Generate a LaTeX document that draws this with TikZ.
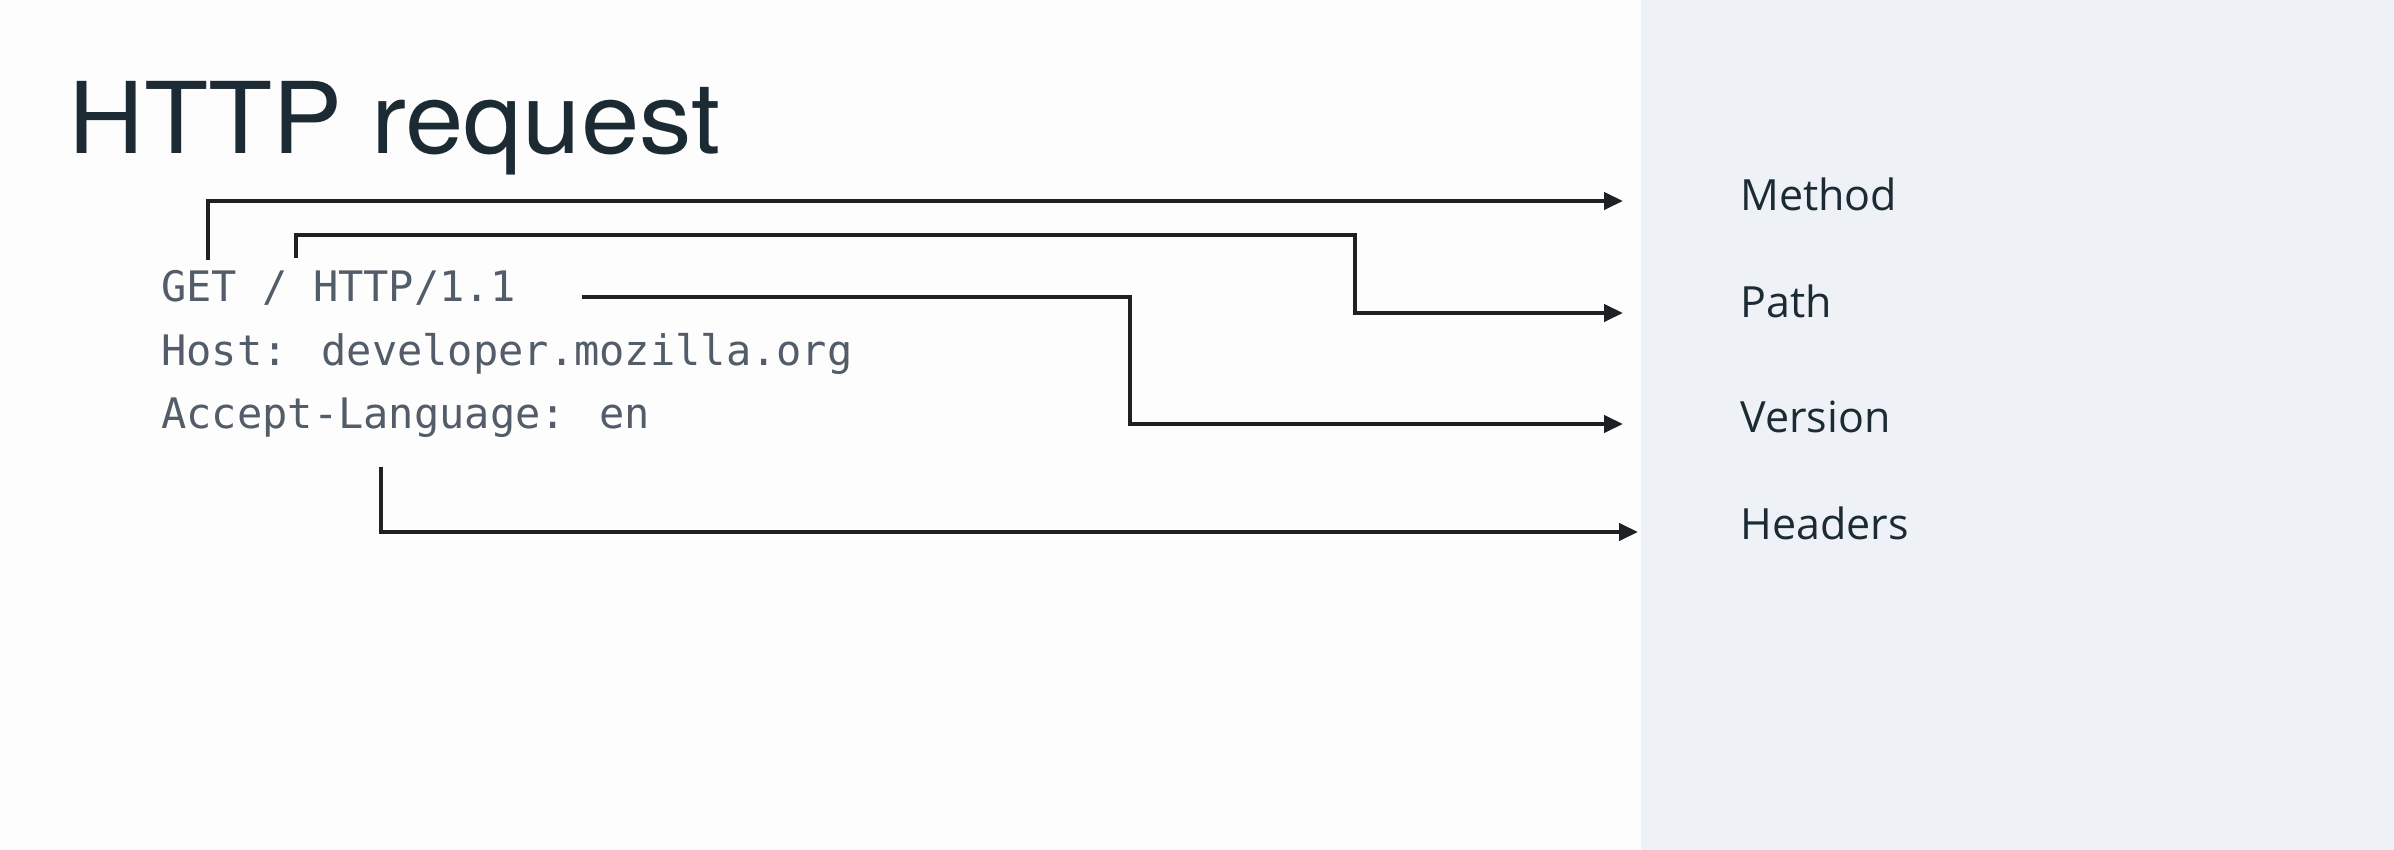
\documentclass[tikz,border=0pt]{standalone}
\usepackage{fontspec}
\usetikzlibrary{arrows.meta}
\newfontfamily\titlefont[FakeStretch=1.06]{TeX Gyre Heros}
\newfontfamily\labelfont{Open Sans}
\newfontfamily\codefont{DejaVu Sans Mono}
\definecolor{ink}{HTML}{1C2B33}
\definecolor{codegray}{HTML}{525D69}
\definecolor{panel}{HTML}{EEF2F7}
\definecolor{linec}{HTML}{1E2124}
\definecolor{bg}{HTML}{FDFDFE}
\begin{document}
\begin{tikzpicture}[x=0.5pt,y=-0.5pt,
  titlestyle/.style={anchor=base west,inner sep=0pt,text=ink,font=\titlefont\fontsize{49.5}{58}\selectfont},
  codestyle/.style={anchor=base west,inner sep=0pt,text=codegray,font=\codefont\fontsize{21}{26}\selectfont},
  labelstyle/.style={anchor=base west,inner sep=0pt,text=ink,font=\labelfont\fontsize{21.5}{25}\selectfont},
  conn/.style={draw=linec,line width=2.1pt,-{Triangle[length=9.5pt,width=8.5pt]}}]
\useasboundingbox (0,0) rectangle (2394,850);
\fill[bg] (0,0) rectangle (2394,850);
\fill[panel] (1641,0) rectangle (2394,850);
% title
\node[titlestyle] (title) at (68,154) {HTTP request};
% code lines
\node[codestyle] (l1) at (161,302) {GET / HTTP/1.1};
\node[codestyle] (l2) at (161,365) {Host: developer.mozilla.org};
\node[codestyle] (l3) at (161,428) {Accept-Language: en};
% labels
\node[labelstyle] (method) at (1740,211) {Method};
\node[labelstyle] (path) at (1740,318) {Path};
\node[labelstyle] (version) at (1740,432) {Version};
\node[labelstyle] (headers) at (1740,539) {Headers};
% connector points
\coordinate (m0) at (208,260);
\coordinate (mEnd) at (1623,201);
\coordinate (p0) at (296,258);
\coordinate (p1) at (1355,235);
\coordinate (pEnd) at (1623,313);
\coordinate (v0) at (582,297);
\coordinate (v1) at (1130,424);
\coordinate (vEnd) at (1623,424);
\coordinate (h0) at (381,467);
\coordinate (hEnd) at (1638,532);
% connectors
\draw[conn] (m0) |- (mEnd);
\draw[conn] (p0) |- (p1) |- (pEnd);
\draw[conn] (v0) -| (v1) -- (vEnd);
\draw[conn] (h0) |- (hEnd);
\end{tikzpicture}
\end{document}
